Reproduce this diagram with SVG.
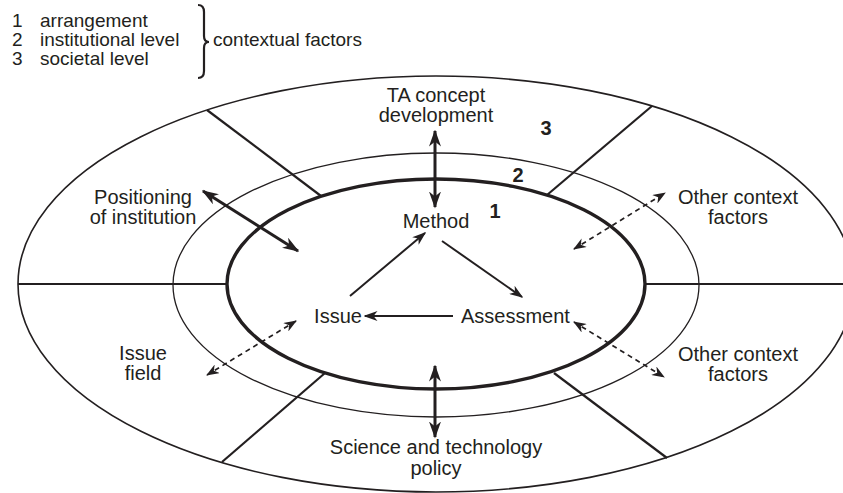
<svg xmlns="http://www.w3.org/2000/svg" width="843" height="493" viewBox="0 0 843 493">
<style>
  .t { font-family: "Liberation Sans", Arial, sans-serif; font-size: 20px; fill: #231f20; }
  .c { text-anchor: middle; }
  .num { font-family: "Liberation Sans", Arial, sans-serif; font-size: 20px; font-weight: bold; fill: #231f20; text-anchor: middle; }
  .leg { font-family: "Liberation Sans", Arial, sans-serif; font-size: 19px; fill: #231f20; }
  .ring { fill: none; stroke: #231f20; }
  .div { stroke: #231f20; stroke-width: 2.2; fill: none; }
  .thick { stroke: #231f20; stroke-width: 3; fill: none; marker-start: url(#big); marker-end: url(#big); }
  .solid { stroke: #231f20; stroke-width: 2; fill: none; marker-end: url(#small); }
  .dash { stroke: #231f20; stroke-width: 1.7; fill: none; stroke-dasharray: 5 4; marker-start: url(#dh); marker-end: url(#dh); }
</style>
<defs>
  <marker id="big" viewBox="0 0 17 12" refX="15.5" refY="6" markerWidth="17" markerHeight="12" markerUnits="userSpaceOnUse" orient="auto-start-reverse">
    <path d="M0,0 L17,6 L0,12 L5,6 Z" fill="#231f20"/>
  </marker>
  <marker id="small" viewBox="0 0 14 10" refX="12.5" refY="5" markerWidth="14" markerHeight="10" markerUnits="userSpaceOnUse" orient="auto-start-reverse">
    <path d="M0,0 L14,5 L0,10 L4,5 Z" fill="#231f20"/>
  </marker>
  <marker id="dh" viewBox="0 0 13 10" refX="12" refY="5" markerWidth="13" markerHeight="10" markerUnits="userSpaceOnUse" orient="auto-start-reverse">
    <path d="M0,0 L13,5 L0,10 L4,5 Z" fill="#231f20"/>
  </marker>
</defs>
<rect x="0" y="0" width="843" height="493" fill="#ffffff"/>

<g id="legend">
  <text class="leg" x="12" y="27">1</text>
  <text class="leg" x="40" y="27">arrangement</text>
  <text class="leg" x="12" y="46">2</text>
  <text class="leg" x="40" y="46">institutional level</text>
  <text class="leg" x="12" y="65">3</text>
  <text class="leg" x="40" y="65">societal level</text>
  <path d="M198,5 Q204,5 204,12 L204,36 Q204,42 209,42 Q204,42 204,48 L204,71 Q204,78 198,78" fill="none" stroke="#231f20" stroke-width="2.2"/>
  <text class="leg" x="213" y="46">contextual factors</text>
</g>

<g id="rings">
  <ellipse id="ring3" class="ring" cx="436" cy="284" rx="418" ry="208" stroke-width="1.6"/>
  <ellipse id="ring2" class="ring" cx="436" cy="285" rx="263" ry="132" stroke-width="1.3"/>
  <ellipse id="ring1" class="ring" cx="436" cy="284" rx="209" ry="105" stroke-width="3.4"/>
  <line class="div" x1="18" y1="284" x2="227" y2="284"/>
  <line class="div" x1="645" y1="284" x2="843" y2="284"/>
  <line class="div" x1="207" y1="110" x2="321" y2="196"/>
  <line class="div" x1="652" y1="106" x2="547" y2="195"/>
  <line class="div" x1="222" y1="462" x2="325" y2="373"/>
  <line class="div" x1="667" y1="458" x2="554" y2="373"/>
  <text class="num" x="546" y="135">3</text>
  <text class="num" x="518" y="182">2</text>
  <text class="num" x="495" y="218">1</text>
</g>

<g id="node-ta"><text class="t c" x="436" y="102">TA concept</text><text class="t c" x="436" y="122">development</text></g>
<g id="node-positioning"><text class="t c" x="143" y="204">Positioning</text><text class="t c" x="143" y="224">of institution</text></g>
<g id="node-other1"><text class="t c" x="738" y="204">Other context</text><text class="t c" x="738" y="224">factors</text></g>
<g id="node-method"><text class="t c" x="436" y="228">Method</text></g>
<g id="node-issue"><text class="t c" x="338" y="323">Issue</text></g>
<g id="node-assessment"><text class="t" x="461" y="323">Assessment</text></g>
<g id="node-issuefield"><text class="t c" x="143" y="360">Issue</text><text class="t c" x="143" y="380">field</text></g>
<g id="node-other2"><text class="t c" x="738" y="361">Other context</text><text class="t c" x="738" y="381">factors</text></g>
<g id="node-stp"><text class="t c" x="436" y="454">Science and technology</text><text class="t c" x="436" y="475">policy</text></g>

<g id="connectors">
  <line class="thick" x1="435" y1="131" x2="435" y2="207"/>
  <line class="thick" x1="435" y1="366" x2="435" y2="437"/>
  <line class="thick" x1="203" y1="191" x2="298" y2="251"/>
  <line class="solid" x1="350" y1="296" x2="425" y2="233"/>
  <line class="solid" x1="442" y1="241" x2="522" y2="297"/>
  <line class="solid" x1="453" y1="316" x2="365" y2="316"/>
  <line class="dash" x1="574" y1="249" x2="665" y2="193"/>
  <line class="dash" x1="574" y1="322" x2="664" y2="377"/>
  <line class="dash" x1="296" y1="321" x2="207" y2="375"/>
</g>
</svg>
